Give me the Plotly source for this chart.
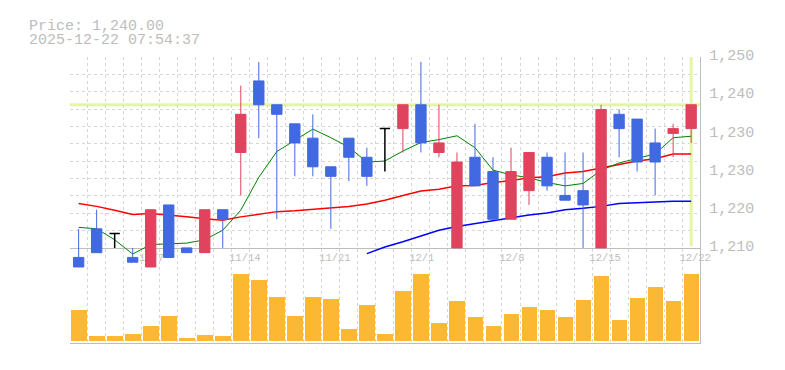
import plotly.graph_objects as go

# ---------------- data ----------------
dates = ["10/31", "11/4", "11/5", "11/6", "11/7", "11/10", "11/11", "11/12", "11/13", "11/14",
         "11/17", "11/18", "11/19", "11/20", "11/21", "11/25", "11/26", "11/27", "11/28", "12/1",
         "12/2", "12/3", "12/4", "12/5", "12/8", "12/9", "12/10", "12/11", "12/12", "12/15",
         "12/16", "12/17", "12/18", "12/19", "12/22"]
opens = [1208, 1214, 1213, 1208, 1206, 1219, 1210, 1209, 1218, 1230,
         1245, 1240, 1236, 1233, 1227, 1233, 1229, 1235, 1235, 1240,
         1230, 1210, 1229, 1226, 1216, 1222, 1229, 1221, 1222, 1210,
         1238, 1237, 1232, 1234, 1235]
highs = [1214, 1218, 1213, 1210, 1218, 1219, 1210, 1218, 1218, 1244,
         1249, 1240, 1236, 1238, 1227, 1233, 1231, 1235, 1240, 1249,
         1240, 1230, 1236, 1229, 1231, 1230, 1230, 1230, 1230, 1240,
         1239, 1237, 1235, 1236, 1240]
lows = [1206, 1209, 1210, 1207, 1206, 1208, 1209, 1209, 1210, 1221,
        1233, 1216, 1225, 1225, 1214, 1224, 1223, 1226, 1230, 1230,
        1229, 1210, 1223, 1216, 1216, 1219, 1222, 1220, 1210, 1210,
        1229, 1226, 1221, 1229, 1232]
closes = [1206, 1209, 1213, 1207, 1218, 1208, 1209, 1218, 1216, 1238,
          1240, 1238, 1232, 1227, 1225, 1229, 1225, 1235, 1240, 1232,
          1232, 1228, 1223, 1216, 1226, 1230, 1223, 1220, 1219, 1239,
          1235, 1228, 1228, 1235, 1240]
volumes = [9800, 1700, 1700, 2300, 4700, 8000, 800, 2000, 1700, 21200,
           19100, 13700, 8000, 13700, 13100, 3800, 11300, 2300, 15800, 21200,
           5600, 12500, 7700, 4700, 8600, 10700, 9800, 7700, 12800, 20600,
           6500, 13400, 17000, 12500, 21200]
ma5 = [1214.3, 1214.0, 1211.7, 1208.7, 1210.7, 1210.8, 1211.0, 1211.7, 1213.7, 1217.9,
       1224.8, 1230.2, 1232.5, 1234.9, 1233.1, 1231.1, 1228.0, 1228.2, 1230.3, 1232.1,
       1232.7, 1233.5, 1231.0, 1226.3, 1225.3, 1224.7, 1223.7, 1223.0, 1223.5, 1226.3,
       1227.8, 1228.7, 1229.7, 1233.1, 1233.4]
ma25 = [1219.3, 1218.7, 1217.9, 1217.0, 1217.2, 1216.9, 1216.5, 1216.1, 1215.8, 1216.5,
        1217.0, 1217.6, 1217.8, 1218.1, 1218.3, 1218.7, 1219.2, 1220.0, 1221.0, 1221.9,
        1222.3, 1223.0, 1223.1, 1223.7, 1224.1, 1224.7, 1224.9, 1225.7, 1226.0, 1226.7,
        1227.5, 1228.2, 1228.7, 1229.7, 1229.7]
ma75 = [None] * 16 + [1208.8, 1210.2, 1211.3, 1212.5, 1213.7, 1214.5, 1215.1, 1215.7, 1216.2,
                      1216.9, 1217.3, 1218.0, 1218.3, 1218.7, 1219.3, 1219.5, 1219.7, 1219.8, 1219.8]
y_tick_values = [1210, 1218, 1226, 1234, 1242, 1250]
y_tick_labels = ["1,210", "1,220", "1,230", "1,230", "1,240", "1,250"]
last_price = 1240.00
timestamp = "2025-12-22 07:54:37"
label_step = 5

# ---------------- styling ----------------
W, H = 785, 370
OFF = 8                      # default page margin in front of the figure
RED = "#e0435e"
BLUE = "#4169e1"
VOL = "#fdb833"
GRID = "#d6d6d6"
AXIS = "#bdbdbd"
TXT = "#bdbdbd"
HILITE = "#e4f5a6"
MONO = "Liberation Mono, DejaVu Sans Mono, monospace"


def py(px):
    return 1 - (px - OFF) / H


def pxf(px):
    return (px - OFF) / W


XDOM = [pxf(70.5), pxf(710)]
n = len(dates)
idx = list(range(n))
xr = [-0.5, n - 0.5]
y_lo, y_hi = y_tick_values[0], y_tick_values[-1]
grid_vals = [y_lo + k * (y_hi - y_lo) / 11 for k in range(1, 12)]
slot_bounds = [i - 0.5 for i in range(n + 1)]
label_idx = [i for i in idx if (n - 1 - i) % label_step == 0]
label_txt = [dates[i] + "\u00a0" * (5 - len(dates[i])) for i in label_idx]

normal = [i for i in idx if opens[i] != closes[i]]
doji = [i for i in idx if opens[i] == closes[i]]

fig = go.Figure()

# current price / current date markers (price-grid subplot)
fig.add_trace(go.Scatter(x=xr, y=[last_price, last_price], xaxis="x", yaxis="y",
                         mode="lines", line=dict(color=HILITE, width=3), hoverinfo="skip"))
fig.add_trace(go.Scatter(x=[idx[-1], idx[-1]], y=[y_hi, y_lo + 0.35], xaxis="x", yaxis="y2",
                         mode="lines", line=dict(color=HILITE, width=3), hoverinfo="skip"))

# volume bars
fig.add_trace(go.Bar(x=idx, y=volumes, xaxis="x2", yaxis="y4", width=0.87,
                     marker=dict(color=VOL, line=dict(width=0)), hoverinfo="skip"))

# moving averages
fig.add_trace(go.Scatter(x=idx, y=ma25, xaxis="x3", yaxis="y3", mode="lines",
                         line=dict(color="#ff0000", width=1.5), hoverinfo="skip"))
fig.add_trace(go.Scatter(x=idx, y=ma75, xaxis="x3", yaxis="y3", mode="lines",
                         line=dict(color="#0000ff", width=1.5), hoverinfo="skip"))
fig.add_trace(go.Scatter(x=idx, y=ma5, xaxis="x3", yaxis="y3", mode="lines",
                         line=dict(color="#008000", width=1), hoverinfo="skip"))

# candles
fig.add_trace(go.Candlestick(
    x=[idx[i] for i in normal], open=[opens[i] for i in normal], high=[highs[i] for i in normal],
    low=[lows[i] for i in normal], close=[closes[i] for i in normal],
    xaxis="x3", yaxis="y5", whiskerwidth=0,
    increasing=dict(line=dict(color=RED, width=1), fillcolor=RED),
    decreasing=dict(line=dict(color=BLUE, width=1), fillcolor=BLUE),
    hoverinfo="skip"))
fig.add_trace(go.Candlestick(
    x=[idx[i] for i in doji], open=[opens[i] for i in doji], high=[highs[i] for i in doji],
    low=[lows[i] for i in doji], close=[closes[i] for i in doji],
    xaxis="x3", yaxis="y5", whiskerwidth=0,
    increasing=dict(line=dict(color="#000000", width=1.5), fillcolor="#000000"),
    decreasing=dict(line=dict(color="#000000", width=1.5), fillcolor="#000000"),
    hoverinfo="skip"))

fig.update_layout(
    width=W, height=H, margin=dict(l=0, r=0, t=0, b=0),
    paper_bgcolor="white", plot_bgcolor="rgba(0,0,0,0)",
    showlegend=False, boxgap=0.18, bargap=0,
    xaxis=dict(domain=XDOM, range=xr, anchor="y", showgrid=False, zeroline=False,
               showline=True, linecolor=AXIS, linewidth=1, ticks="",
               tickvals=label_idx, ticktext=label_txt, ticklabelshift=4,
               tickfont=dict(family=MONO, size=10.5, color=TXT), fixedrange=True),
    yaxis=dict(domain=[py(250), py(50)], range=[y_lo, y_hi], anchor="x",
               showgrid=True, gridcolor=GRID, gridwidth=1, griddash="3px,3px",
               tickvals=grid_vals, showticklabels=False, zeroline=False, showline=False,
               ticks="", fixedrange=True),
    yaxis2=dict(overlaying="y", side="right", anchor="x", range=[y_lo, y_hi],
                tickvals=y_tick_values, ticktext=y_tick_labels, showgrid=False,
                zeroline=False, showline=False, ticks="", ticklabelshift=-2,
                ticklabelstandoff=8,
                tickfont=dict(family=MONO, size=15, color=TXT), fixedrange=True),
    xaxis2=dict(domain=XDOM, range=xr, anchor="y4", showgrid=True, gridcolor=GRID,
                gridwidth=1, griddash="3px,3px", tickvals=slot_bounds,
                showticklabels=False, zeroline=False, showline=True, linecolor=AXIS,
                linewidth=1, ticks="", fixedrange=True),
    yaxis4=dict(domain=[py(349.3), py(50)], range=[-480, 89310], anchor="x2", side="right",
                showgrid=False, zeroline=False, showline=True, linecolor=AXIS, linewidth=1,
                showticklabels=False, ticks="", fixedrange=True),
    xaxis3=dict(domain=XDOM, range=xr, anchor="y3", visible=False,
                rangeslider=dict(visible=False), fixedrange=True),
    yaxis3=dict(domain=[py(275), py(50)], range=[y_hi - 45, y_hi], anchor="x3",
                visible=False, fixedrange=True),
    yaxis5=dict(overlaying="y3", anchor="x3", range=[y_hi - 45, y_hi], visible=False,
                fixedrange=True),
    annotations=[
        dict(text=f"Price: {last_price:,.2f}", xref="paper", yref="paper",
             x=pxf(27), y=py(18), xanchor="left", yanchor="middle", showarrow=False,
             font=dict(family=MONO, size=15, color=TXT)),
        dict(text=timestamp, xref="paper", yref="paper",
             x=pxf(27), y=py(33), xanchor="left", yanchor="middle", showarrow=False,
             font=dict(family=MONO, size=15, color=TXT)),
    ],
)

fig.write_html("out.html", config={"displayModeBar": False})
